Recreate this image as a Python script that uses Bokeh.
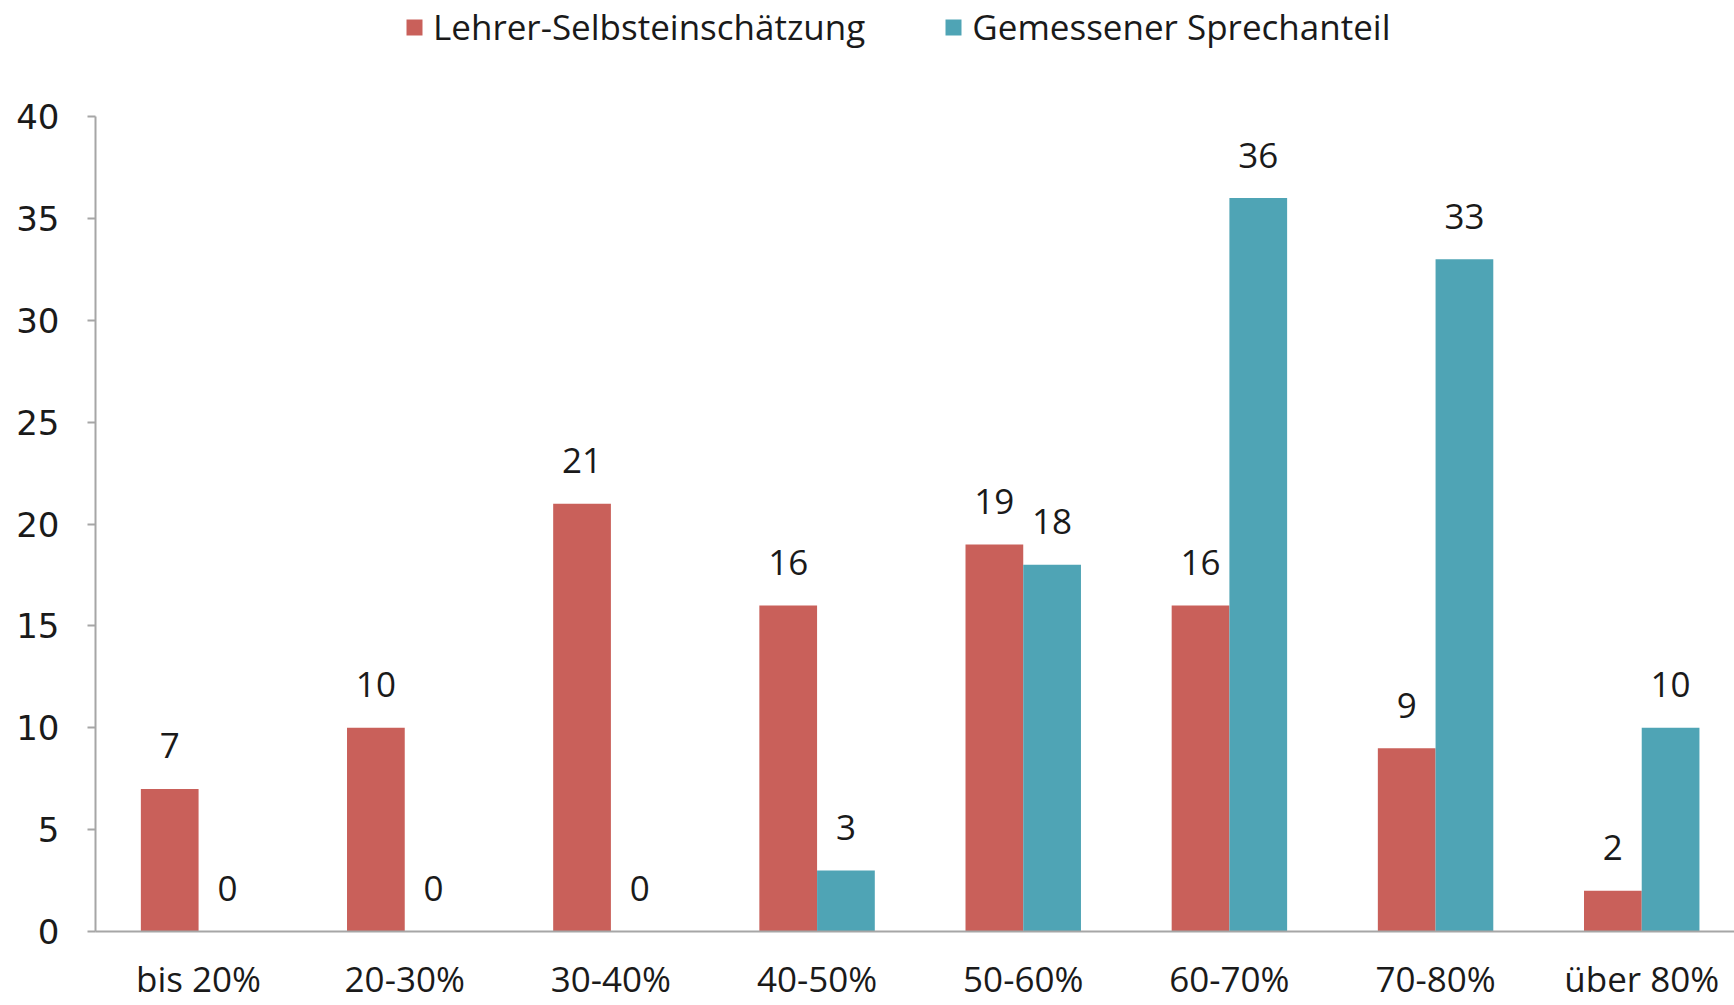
import numpy as np
from bokeh.plotting import figure
from bokeh.layouts import column
from bokeh.models import ColumnDataSource, FixedTicker, Range1d, Legend, LegendItem
from bokeh.core.properties import value
from bokeh.embed import file_html
from bokeh.resources import INLINE

categories = ["bis 20%", "20-30%", "30-40%", "40-50%", "50-60%", "60-70%", "70-80%", "über 80%"]
lehrer = [7, 10, 21, 16, 19, 16, 9, 2]
gemessen = [0, 0, 0, 3, 18, 36, 33, 10]
series_names = ["Lehrer-Selbsteinschätzung", "Gemessener Sprechanteil"]
y_ticks = [0, 5, 10, 15, 20, 25, 30, 35, 40]

RED = "#C9605A"
TEAL = "#4FA4B5"
BAR_W = 0.28

W = 1734
LEG_H = 50
H = 1005 - LEG_H
TOP, BOTTOM, LEFT = 116 - LEG_H, 74, 95

centers = np.arange(len(categories)) + 0.5
src_l = ColumnDataSource(dict(x=centers - BAR_W / 2, y=lehrer, t=[str(v) for v in lehrer]))
src_g = ColumnDataSource(dict(x=centers + BAR_W / 2, y=gemessen, t=[str(v) for v in gemessen]))

p = figure(width=W, height=H, output_backend="svg", toolbar_location=None,
           x_range=Range1d(0, 7.95), y_range=Range1d(0, 40),
           min_border_left=LEFT, min_border_right=0, min_border_top=TOP, min_border_bottom=BOTTOM)

r1 = p.vbar(x="x", top="y", width=BAR_W, bottom=0, source=src_l, fill_color=RED, line_color=None)
r2 = p.vbar(x="x", top="y", width=BAR_W, bottom=0, source=src_g, fill_color=TEAL, line_color=None)

for src in (src_l, src_g):
    p.text(x="x", y="y", text="t", source=src, text_align="center", text_baseline="alphabetic",
           y_offset=-43, text_font=value("Open Sans"), text_font_size="35px", text_color="#1a1a1a")

p.grid.visible = False
p.outline_line_color = None
p.background_fill_color = "white"

# x axis
xa = p.xaxis[0]
xa.ticker = FixedTicker(ticks=list(centers))
xa.major_label_overrides = {float(c): lab for c, lab in zip(centers, categories)}
xa.major_tick_line_color = None
xa.minor_tick_line_color = None
xa.axis_line_color = "#A6A6A6"
xa.axis_line_width = 2
xa.major_label_standoff = 17
xa.major_label_text_font = "Open Sans"
xa.major_label_text_font_size = "35px"
xa.major_label_text_color = "#1a1a1a"

# y axis
ya = p.yaxis[0]
ya.ticker = FixedTicker(ticks=y_ticks)
ya.minor_tick_line_color = None
ya.axis_line_color = "#A6A6A6"
ya.axis_line_width = 2
ya.major_tick_line_color = "#A6A6A6"
ya.major_tick_line_width = 2
ya.major_tick_in = 0
ya.major_tick_out = 8
ya.major_label_standoff = 28
ya.major_label_text_font = "DejaVu Sans"
ya.major_label_text_font_size = "34px"
ya.major_label_text_color = "#1a1a1a"

# legend strip above the chart
pl = figure(width=W, height=LEG_H, output_backend="svg", toolbar_location=None,
            x_range=Range1d(0, 1), y_range=Range1d(0, 1),
            x_axis_location=None, y_axis_location=None,
            min_border_left=0, min_border_right=0, min_border_top=0, min_border_bottom=0)
pl.grid.visible = False
pl.outline_line_color = None
pl.background_fill_color = "white"
pl.border_fill_color = "white"
lr1 = pl.vbar(x=[0.5], top=[0], bottom=[0], width=0.0, fill_color=RED, line_color=None)
lr2 = pl.vbar(x=[0.5], top=[0], bottom=[0], width=0.0, fill_color=TEAL, line_color=None)
legend = Legend(items=[LegendItem(label=series_names[0], renderers=[lr1]),
                       LegendItem(label=series_names[1], renderers=[lr2])],
                orientation="horizontal", location=(309, 0),
                label_text_font="Open Sans", label_text_font_size="35px", label_text_color="#1a1a1a",
                glyph_width=20, glyph_height=20, label_standoff=9, spacing=78,
                border_line_color=None, background_fill_alpha=0, padding=0, margin=0)
pl.add_layout(legend)

layout = column(pl, p, spacing=0)
open("out.html", "w").write(file_html(layout, INLINE))
